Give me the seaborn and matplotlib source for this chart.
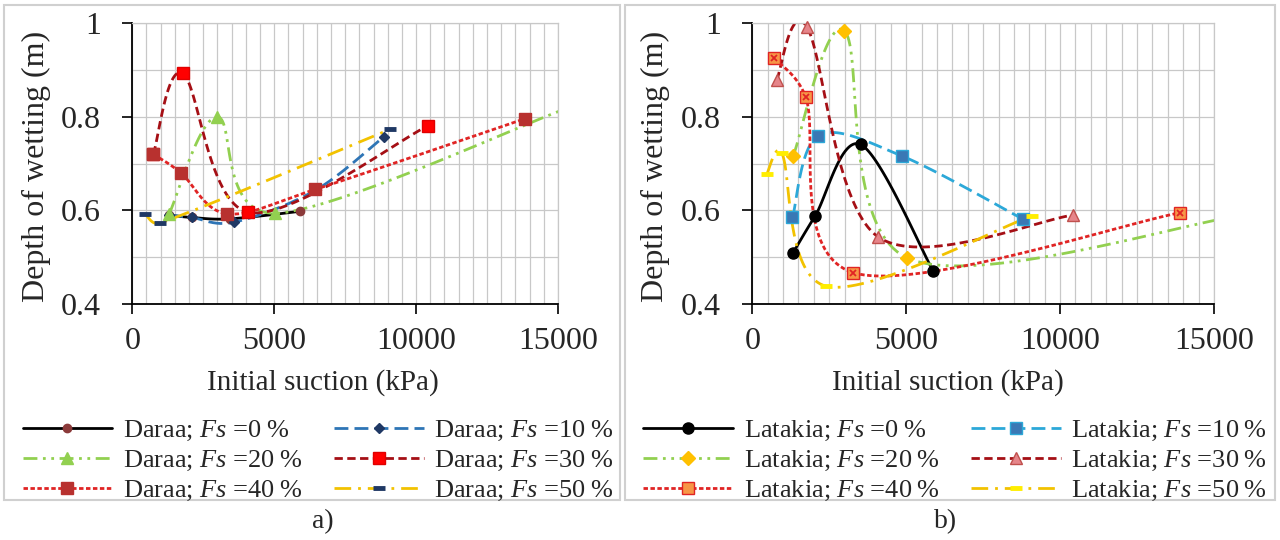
import numpy as np
import matplotlib
matplotlib.use("Agg")
import matplotlib.pyplot as plt
import seaborn as sns
from matplotlib.lines import Line2D
from matplotlib.patches import Rectangle

# ---------------- data ----------------
# Daraa (panel a)
daraa_fs0_x = [1300, 2090, 3440, 5900]
daraa_fs0_y = [0.590, 0.585, 0.582, 0.598]
daraa_fs10_x = [1300, 2090, 3600, 6450, 8870]
daraa_fs10_y = [0.590, 0.585, 0.575, 0.643, 0.758]
daraa_fs20_x = [1300, 2990, 5025, 15300]
daraa_fs20_y = [0.593, 0.800, 0.594, 0.818]
daraa_fs30_x = [740, 1775, 4085, 10420]
daraa_fs30_y = [0.720, 0.893, 0.596, 0.781]
daraa_fs40_x = [740, 1704, 3324, 6450, 13830]
daraa_fs40_y = [0.720, 0.681, 0.593, 0.645, 0.796]
daraa_fs50_x = [447, 975, 9073]
daraa_fs50_y = [0.593, 0.573, 0.773]

# Latakia (panel b)
latakia_fs0_x = [1330, 2040, 3520, 5880]
latakia_fs0_y = [0.510, 0.588, 0.741, 0.470]
latakia_fs10_x = [1305, 2150, 4875, 8805]
latakia_fs10_y = [0.585, 0.760, 0.716, 0.581]
latakia_fs20_x = [1330, 2990, 5015, 15800]
latakia_fs20_y = [0.717, 0.984, 0.499, 0.588]
latakia_fs30_x = [790, 1767, 4075, 10430]
latakia_fs30_y = [0.879, 0.993, 0.544, 0.590]
latakia_fs40_x = [715, 1735, 3280, 13895]
latakia_fs40_y = [0.925, 0.842, 0.467, 0.595]
latakia_fs50_x = [465, 955, 2400, 9075]
latakia_fs50_y = [0.677, 0.723, 0.438, 0.588]

fs_levels = ["0", "10", "20", "30", "40", "50"]
x_ticks = [0, 5000, 10000, 15000]
y_ticks = [0.4, 0.6, 0.8, 1.0]
y_tick_labels = ["0.4", "0.6", "0.8", "1"]
x_label = "Initial suction (kPa)"
y_label = "Depth of wetting (m)"
panel_labels = ["a)", "b)"]

# ---------------- style ----------------
sns.set_theme(style="white")
plt.rcParams["font.family"] = ["Liberation Serif", "DejaVu Serif"]
plt.rcParams["mathtext.fontset"] = "custom"
plt.rcParams["mathtext.rm"] = "Liberation Serif"
plt.rcParams["mathtext.it"] = "Liberation Serif:italic"

W, H = 1280, 540
fig = plt.figure(figsize=(12.8, 5.4), dpi=100)

# panel frames (Excel chart areas)
for (x0, x1) in [(4, 620), (625, 1275)]:
    fig.patches.append(Rectangle((x0 / W, 1 - 500 / H), (x1 - x0) / W, 495 / H,
                                 transform=fig.transFigure, fill=False,
                                 edgecolor="#D0D0D0", lw=1.5))

ax_top, ax_bot = 23.3, 304
axL = fig.add_axes([132.3 / W, 1 - ax_bot / H, (558 - 132.3) / W, (ax_bot - ax_top) / H])
axR = fig.add_axes([752.3 / W, 1 - ax_bot / H, (1214 - 752.3) / W, (ax_bot - ax_top) / H])


def excel_smooth(xs, ys, ax, n=40):
    """Spreadsheet-style smoothed line through the data points (Bezier, 1/6 tangents,
    arms limited to half the segment), computed in pixel space."""
    bb = ax.get_position()
    sx = bb.width * W / 15000.0
    sy = bb.height * H / 0.6
    P = np.column_stack([np.asarray(xs, float) * sx, np.asarray(ys, float) * sy])
    segs = []
    for i in range(len(P) - 1):
        p0 = P[i - 1] if i > 0 else P[i]
        p1, p2 = P[i], P[i + 1]
        p3 = P[i + 2] if i + 2 < len(P) else P[i + 1]
        lim = np.hypot(*(p2 - p1)) / 2.0
        a1 = (p2 - p0) / 6.0
        a2 = (p3 - p1) / 6.0
        if np.hypot(*a1) > lim:
            a1 = a1 * lim / np.hypot(*a1)
        if np.hypot(*a2) > lim:
            a2 = a2 * lim / np.hypot(*a2)
        c1 = p1 + a1
        c2 = p2 - a2
        t = np.linspace(0, 1, n)[:, None]
        seg = (1 - t) ** 3 * p1 + 3 * (1 - t) ** 2 * t * c1 + 3 * (1 - t) * t ** 2 * c2 + t ** 3 * p2
        segs.append(seg if i == 0 else seg[1:])
    Q = np.vstack(segs)
    return Q[:, 0] / sx, Q[:, 1] / sy


LS = {
    "0": "-",
    "10": (0, (5, 2.2)),
    "20": (0, (5, 2, 1, 2, 1, 2)),
    "30": (0, (3, 1.6)),
    "40": (0, (1.6, 0.9)),
    "50": (0, (6, 2.5, 1, 2.5)),
}

daraa_series = [
    (daraa_fs0_x, daraa_fs0_y, dict(color="black", marker="o", mfc="#8B3A3A", mec="#8B3A3A", ms=6)),
    (daraa_fs10_x, daraa_fs10_y, dict(color="#2E75B6", marker="D", mfc="#1F3864", mec="#1F3864", ms=5)),
    (daraa_fs20_x, daraa_fs20_y, dict(color="#92D050", marker="^", mfc="#92D050", mec="#92D050", ms=8)),
    (daraa_fs30_x, daraa_fs30_y, dict(color="#A50F15", marker="s", mfc="#FF0000", mec="#E00000", ms=8)),
    (daraa_fs40_x, daraa_fs40_y, dict(color="#E02424", marker="s", mfc="#B8312F", mec="#B8312F", ms=8)),
    (daraa_fs50_x, daraa_fs50_y, dict(color="#F2C200", marker="_", mfc="#1F3864", mec="#1F3864", ms=9, mew=3.5)),
]
latakia_series = [
    (latakia_fs0_x, latakia_fs0_y, dict(color="black", marker="o", mfc="black", mec="black", ms=8)),
    (latakia_fs10_x, latakia_fs10_y, dict(color="#2CA8D8", marker="s", mfc="#3A78B5", mec="#2CA8D8", ms=8)),
    (latakia_fs20_x, latakia_fs20_y, dict(color="#92D050", marker="D", mfc="#FFC000", mec="#FFC000", ms=7)),
    (latakia_fs30_x, latakia_fs30_y, dict(color="#A50F15", marker="^", mfc="#E6858A", mec="#C0504D", ms=8)),
    (latakia_fs40_x, latakia_fs40_y, dict(color="#E02424", marker="s", mfc="#F79646", mec="#E02424", ms=8)),
    (latakia_fs50_x, latakia_fs50_y, dict(color="#F2C200", marker="_", mfc="#FFEE00", mec="#FFEE00", ms=9, mew=3.5)),
]


def draw_panel(ax, series, site):
    ax.set_xlim(0, 15000)
    ax.set_ylim(0.4, 1.0)
    ax.set_xticks(np.arange(0, 15001, 500), minor=True)
    ax.set_yticks(np.arange(0.4, 1.001, 0.1), minor=True)
    ax.grid(which="minor", color="#C8C8C8", lw=0.9)
    ax.grid(which="major", color="#C8C8C8", lw=0.9)
    ax.set_axisbelow(True)
    # clip region for markers: full width, a little taller than the axes
    clip = Rectangle((0, -0.04), 1.0, 1.08, transform=ax.transAxes)
    handles = []
    for fs, (xs, ys, st) in zip(fs_levels, series):
        sxs, sys_ = excel_smooth(xs, ys, ax)
        sns.lineplot(x=sxs, y=sys_, ax=ax, sort=False, estimator=None, color=st["color"],
                     lw=2.0, linestyle=LS[fs], legend=False)
        mkw = dict(marker=st["marker"], ms=st["ms"], mfc=st["mfc"], mec=st["mec"],
                   mew=st.get("mew", 1.0))
        (mline,) = ax.plot(xs, ys, ls="none", zorder=4, **mkw)
        mline.set_clip_path(clip)
        if site == "Latakia" and fs == "40":
            (xl,) = ax.plot(xs, ys, marker="x", ms=5, mec="#E02424", mew=1.3, ls="none", zorder=5)
            xl.set_clip_path(clip)
        h = Line2D([0], [0], color=st["color"], lw=2.0, linestyle=LS[fs], **mkw)
        handles.append((h, f"{site}; $\\mathit{{Fs}}$ ={fs}\u2009%"))
    ax.set_xticks(x_ticks)
    ax.set_xticklabels([str(v) for v in x_ticks])
    ax.set_yticks(y_ticks)
    ax.set_yticklabels(y_tick_labels)
    ax.tick_params(axis="both", which="major", direction="out", length=7.5, width=1.2,
                   color="black", labelsize=23, bottom=True, left=True)
    ax.tick_params(axis="y", which="major", pad=15)
    ax.tick_params(axis="x", which="major", pad=9)
    ax.tick_params(axis="both", which="minor", length=0)
    for s in ["left", "bottom"]:
        ax.spines[s].set_color("black")
        ax.spines[s].set_linewidth(1.3)
    for s in ["top", "right"]:
        ax.spines[s].set_color("#C8C8C8")
        ax.spines[s].set_linewidth(0.9)
    ax.set_xlabel("")
    ax.set_ylabel("")
    return handles


hL = draw_panel(axL, daraa_series, "Daraa")
hR = draw_panel(axR, latakia_series, "Latakia")

# axis titles
fig.text(323 / W, 1 - 383 / H, x_label, ha="center", va="center", fontsize=21)
fig.text(948 / W, 1 - 383 / H, x_label, ha="center", va="center", fontsize=21)
fig.text(36 / W, 1 - 166 / H, y_label, ha="center", va="center", rotation=90, fontsize=23)
fig.text(655 / W, 1 - 166 / H, y_label, ha="center", va="center", rotation=90, fontsize=23)

# legends (row-major order like the reference)
order = [0, 2, 4, 1, 3, 5]
for handles, cx in [(hL, 318), (hR, 955)]:
    fig.legend([handles[i][0] for i in order], [handles[i][1] for i in order], loc="center",
               bbox_to_anchor=(cx / W, 1 - 461 / H), ncol=2, frameon=False,
               fontsize=19, handlelength=3.4, handletextpad=0.4, columnspacing=1.2,
               labelspacing=0.2, numpoints=1)

fig.text(323 / W, 1 - 522 / H, panel_labels[0], ha="center", va="center", fontsize=20)
fig.text(946 / W, 1 - 522 / H, panel_labels[1], ha="center", va="center", fontsize=20)

fig.savefig("out.png", dpi=100)
